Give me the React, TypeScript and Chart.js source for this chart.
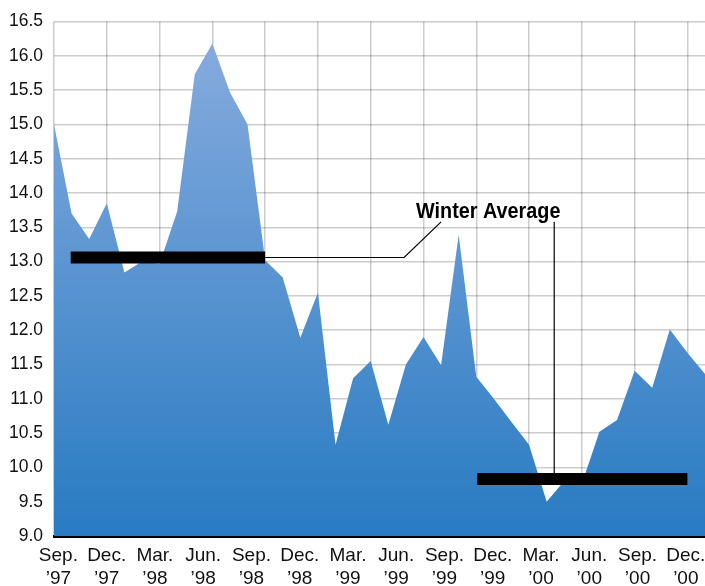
import React, { useEffect, useRef } from 'react';
import { Chart, registerables } from 'chart.js';

Chart.register(...registerables);

// Monthly observations, Sep '97 through Oct '00
const months = [
  'Sep 97', 'Oct 97', 'Nov 97', 'Dec 97', 'Jan 98', 'Feb 98', 'Mar 98', 'Apr 98', 'May 98', 'Jun 98',
  'Jul 98', 'Aug 98', 'Sep 98', 'Oct 98', 'Nov 98', 'Dec 98', 'Jan 99', 'Feb 99', 'Mar 99', 'Apr 99',
  'May 99', 'Jun 99', 'Jul 99', 'Aug 99', 'Sep 99', 'Oct 99', 'Nov 99', 'Dec 99', 'Jan 00', 'Feb 00',
  'Mar 00', 'Apr 00', 'May 00', 'Jun 00', 'Jul 00', 'Aug 00', 'Sep 00', 'Oct 00',
];

const monthlyValues = [
  15.0, 13.7, 13.33, 13.85, 12.84, 13.0, 12.97, 13.73, 15.73, 16.18,
  15.47, 15.0, 13.02, 12.77, 11.89, 12.55, 10.33, 11.3, 11.55, 10.62,
  11.5, 11.9, 11.49, 13.39, 11.32, 11.0, 10.66, 10.33, 9.5, 9.8,
  9.76, 10.52, 10.69, 11.41, 11.16, 12.01, 11.67, 11.36,
];

const xTickLabels = [
  ['Sep.', '\u201997'], ['Dec.', '\u201997'], ['Mar.', '\u201998'], ['Jun.', '\u201998'],
  ['Sep.', '\u201998'], ['Dec.', '\u201998'], ['Mar.', '\u201999'], ['Jun.', '\u201999'],
  ['Sep.', '\u201999'], ['Dec.', '\u201999'], ['Mar.', '\u201900'], ['Jun.', '\u201900'],
  ['Sep.', '\u201900'], ['Dec.', '\u201900'],
];

const yMin = 9.0;
const yMax = 16.5;
const yStep = 0.5;

// Winter average annotations (month index, value)
const winterBarEarly = [{ x: 0.95, y: 13.06 }, { x: 12, y: 13.06 }];
const winterBarLate = [{ x: 24.05, y: 9.83 }, { x: 36, y: 9.83 }];
const leaderEarly = [{ x: 12, y: 13.06 }, { x: 19.9, y: 13.06 }, { x: 22, y: 13.58 }];
const leaderLate = [{ x: 28.43, y: 9.83 }, { x: 28.43, y: 13.58 }];
const calloutText = 'Winter Average';
const calloutAt = { x: 24.68, y: 13.635 };

const SANS = '"Liberation Sans", Arial, sans-serif';

const calloutPlugin = {
  id: 'callout',
  afterDraw(chart: any) {
    const { ctx, scales } = chart;
    const px = scales.x.getPixelForValue(calloutAt.x);
    const py = scales.y.getPixelForValue(calloutAt.y);
    const squeeze = 0.88;
    ctx.save();
    ctx.translate(px, py);
    ctx.scale(squeeze, 1);
    ctx.font = `bold 22.5px ${SANS}`;
    ctx.fillStyle = '#000';
    ctx.textAlign = 'center';
    ctx.textBaseline = 'alphabetic';
    ctx.fillText(calloutText, 0, 0);
    ctx.restore();
  },
};

export default function App() {
  const canvasRef = useRef<HTMLCanvasElement | null>(null);

  useEffect(() => {
    document.body.style.margin = '0';
    const canvas = canvasRef.current;
    if (!canvas) return;

    const labelStart = 0.25;
    const labelStep = 2.743;
    const lastMonth = months.length - 1;

    const chart = new Chart(canvas, {
      type: 'line',
      data: {
        datasets: [
          {
            label: 'winter-bar-early',
            data: winterBarEarly,
            borderColor: '#000',
            borderWidth: 12,
            borderCapStyle: 'butt',
            pointRadius: 0,
            fill: false,
          },
          {
            label: 'winter-bar-late',
            data: winterBarLate,
            borderColor: '#000',
            borderWidth: 12,
            borderCapStyle: 'butt',
            pointRadius: 0,
            fill: false,
          },
          {
            label: 'leader-early',
            data: leaderEarly,
            borderColor: '#000',
            borderWidth: 1.2,
            pointRadius: 0,
            fill: false,
          },
          {
            label: 'leader-late',
            data: leaderLate,
            borderColor: '#000',
            borderWidth: 1.2,
            pointRadius: 0,
            fill: false,
          },
          {
            label: 'value',
            data: monthlyValues.map((v, i) => ({ x: i, y: v })),
            borderWidth: 0,
            borderColor: 'rgba(0,0,0,0)',
            pointRadius: 0,
            tension: 0,
            fill: 'start',
            backgroundColor: (c: any) => {
              const area = c.chart.chartArea;
              if (!area) return '#5a92d1';
              const g = c.chart.ctx.createLinearGradient(0, area.top, 0, area.bottom);
              g.addColorStop(0, '#8aaddf');
              g.addColorStop(1, '#287bc2');
              return g;
            },
          },
        ],
      },
      options: {
        responsive: false,
        animation: false,
        devicePixelRatio: 1,
        layout: { padding: { top: 18, right: 0, left: 0, bottom: 0 } },
        plugins: {
          legend: { display: false },
          tooltip: { enabled: false },
        },
        scales: {
          x: {
            type: 'linear',
            position: 'bottom',
            weight: 0,
            z: 1,
            min: 0,
            max: lastMonth,
            afterBuildTicks: (axis: any) => {
              const t = [];
              for (let m = 0; m <= lastMonth; m += 3) t.push({ value: m });
              axis.ticks = t;
            },
            afterFit: (axis: any) => {
              axis.height = 0;
              axis.paddingLeft = 0;
              axis.paddingRight = 0;
            },
            ticks: { display: false },
            grid: { color: 'rgba(0,0,0,0.2)', lineWidth: 1.5, drawTicks: false },
            border: { display: true, color: '#000', width: 3 },
          },
          xl: {
            type: 'linear',
            position: 'bottom',
            weight: 1,
            min: -labelStart / labelStep,
            max: (lastMonth - labelStart) / labelStep,
            afterBuildTicks: (axis: any) => {
              axis.ticks = xTickLabels.map((_, i) => ({ value: i }));
            },
            afterFit: (axis: any) => {
              axis.height = 50;
              axis.paddingLeft = 0;
              axis.paddingRight = 0;
            },
            grid: { display: false, drawTicks: false },
            border: { display: false },
            ticks: {
              autoSkip: false,
              maxRotation: 0,
              padding: 9,
              color: '#111',
              font: { family: SANS, size: 19, lineHeight: 1.17 },
              callback: (_v: any, i: number) => xTickLabels[i],
            },
          },
          y: {
            type: 'linear',
            min: yMin,
            max: yMax,
            z: 1,
            afterFit: (axis: any) => { axis.width = 54; },
            ticks: {
              stepSize: yStep,
              padding: 11,
              color: '#111',
              font: { family: SANS, size: 17.5 },
              callback: (v: any) => Number(v).toFixed(1),
            },
            grid: { color: 'rgba(0,0,0,0.2)', lineWidth: 1.5, drawTicks: false },
            border: { display: false },
          },
        },
      } as any,
      plugins: [calloutPlugin],
    });

    return () => chart.destroy();
  }, []);

  return (
    <div style={{ width: 705, height: 586 }}>
      <canvas ref={canvasRef} width={705} height={586} />
    </div>
  );
}
